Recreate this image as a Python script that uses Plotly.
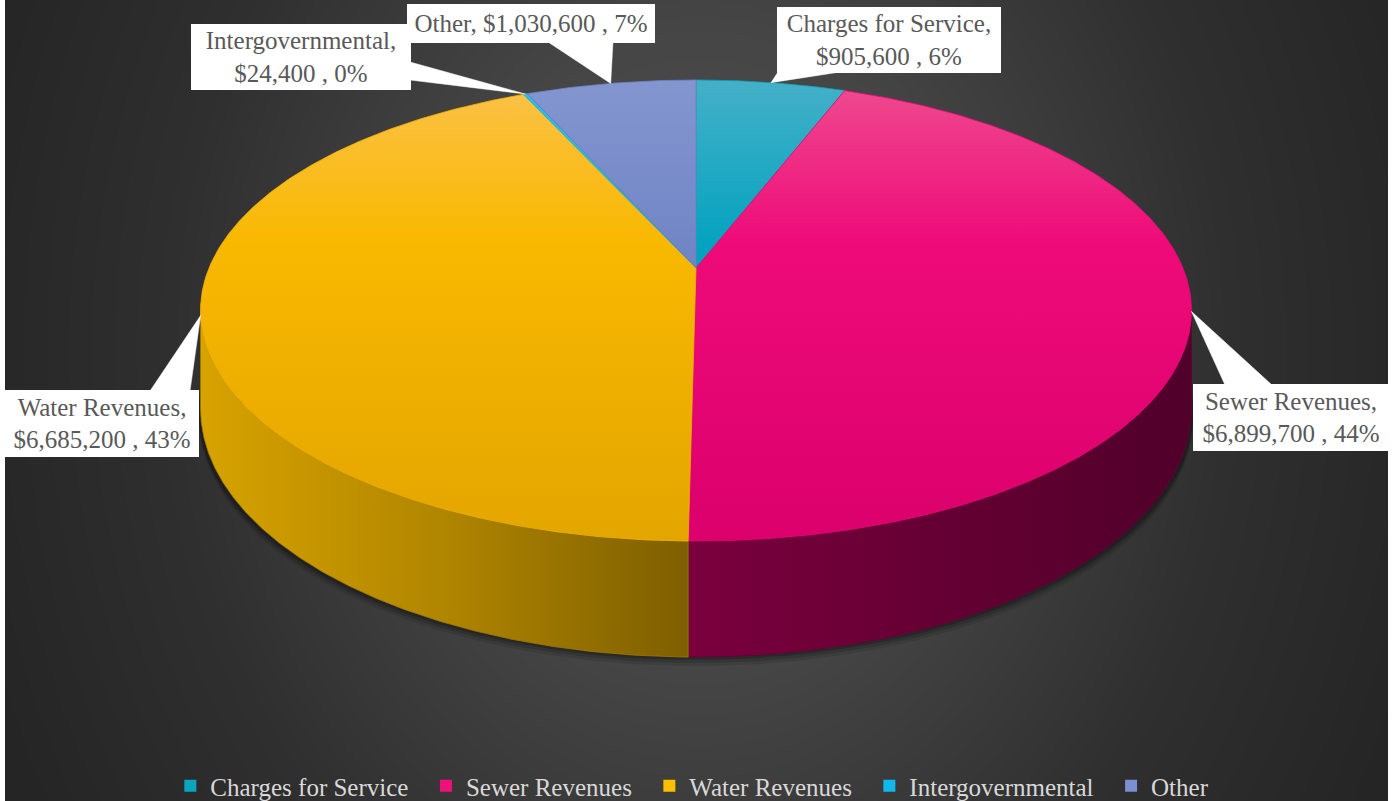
import numpy as np
import plotly.graph_objects as go

# ---- data -------------------------------------------------------------
categories = ["Charges for Service", "Sewer Revenues", "Water Revenues",
              "Intergovernmental", "Other"]
amounts = [905600, 6899700, 6685200, 24400, 1030600]

# ---- styles -----------------------------------------------------------
top_scales = [
    [[0, "#45B0C8"], [0.35, "#05A3C0"], [1, "#0092AE"]],
    [[0, "#EF4C8F"], [0.35, "#EE0B79"], [1, "#DB006B"]],
    [[0, "#FBC24A"], [0.35, "#F9B800"], [1, "#E3A500"]],
    [[0, "#2EBCEA"], [1, "#12A8DA"]],
    [[0, "#8496D0"], [0.35, "#7286C6"], [1, "#5A6CB2"]],
]
edge_colors = ["#0AA0BC", "#E8087A", "#F4B300", "#1AB5E6", "#6C80C2"]
side_scales = [
    [[0, "#007A90"], [1, "#005E70"]],
    [[0, "#7A003D"], [1, "#50002A"]],
    [[0, "#D8A300"], [0.5, "#B08500"], [1, "#7E5F00"]],
    [[0, "#0F86AA"], [1, "#0A6F90"]],
    [[0, "#4A5896"], [1, "#3A4678"]],
]
side_edges = ["#006C80", "#640034", "#A07A00", "#0C7A9C", "#424F88"]
legend_colors = ["#0AA5C0", "#F0107A", "#FAC000", "#12B8EA", "#7A8ED0"]

# label boxes: left, top, width, height (pixels)
label_boxes = {
    "Charges for Service": (777, 7, 224, 66),
    "Sewer Revenues": (1193, 384, 196, 67),
    "Water Revenues": (5, 390, 194, 67),
    "Intergovernmental": (191, 24, 220, 66),
    "Other": (407, 4, 248, 39),
}
# pointer bases on the label boxes (two points each)
pointer_bases = {
    "Charges for Service": ((778, 72), (840, 72)),
    "Sewer Revenues": ((1225, 385), (1272, 385)),
    "Water Revenues": ((150, 391), (190, 391)),
    "Intergovernmental": ((410, 62), (410, 80)),
    "Other": ((548, 42), (613, 42)),
}
single_line = {"Other"}

W, H = 1399, 801
X0, X1 = 5, 1388

# ---- projection of the cylinder -------------------------------------
CX, CY = 696.0, 268.0
RX, RY = 487.0, 222.7
PERSP = 0.1844
DEPTH = 94.6


def project(theta_deg, r=1.0, z=0.0):
    t = np.radians(np.asarray(theta_deg, dtype=float))
    X = r * np.sin(t)
    Y = r * np.cos(t)
    s = 1.0 / (1.0 + PERSP * Y)
    return CX + RX * X * s, CY - RY * Y * s + DEPTH * z * s


total = float(sum(amounts))
fracs = [a / total for a in amounts]
cum = np.concatenate([[0.0], np.cumsum(fracs)])
starts = cum[:-1] * 360.0
ends = cum[1:] * 360.0
mids = (starts + ends) / 2.0

# silhouette angles of the side wall
th_all = np.linspace(0, 360, 36001)
xs_all, _ = project(th_all)
theta_right = th_all[np.argmax(xs_all)]
theta_left = th_all[np.argmin(xs_all)]


def arc(a0, a1, z=0.0):
    n = max(3, int(abs(a1 - a0) * 3))
    th = np.linspace(a0, a1, n)
    return project(th, 1.0, z)


fig = go.Figure()

# ---- background ------------------------------------------------------
gx = np.linspace(X0, X1, 90)
gy = np.linspace(0, H, 52)
GX, GY = np.meshgrid(gx, gy)
dist = np.sqrt(((GX - 700) / 560.0) ** 2 + ((GY - 350) / 700.0) ** 2)
fig.add_trace(go.Heatmap(
    x=gx, y=gy, z=dist, zmin=0, zmax=1.35, zsmooth="best",
    colorscale=[[0, "#4E4E4E"], [0.33, "#464646"], [0.7, "#2F2F2F"], [1, "#252525"]],
    showscale=False, hoverinfo="skip",
))

# ---- shadow under the pie -------------------------------------------
bx, by = arc(0, 360, 1.0)
for off, op in [(9, 0.10), (6, 0.14), (3, 0.2)]:
    fig.add_trace(go.Scatter(
        x=CX + (bx - CX) * 1.004, y=by + off, fill="toself", mode="lines",
        line=dict(width=0), fillcolor=f"rgba(0,0,0,{op})",
        hoverinfo="skip", showlegend=False,
    ))

# ---- side wall -------------------------------------------------------
for i, cat in enumerate(categories):
    a0 = max(starts[i], theta_right)
    a1 = min(ends[i], theta_left)
    if a1 <= a0:
        continue
    tx, ty = arc(a0, a1, 0.0)
    bx_, by_ = arc(a0, a1, 1.0)
    px = np.concatenate([tx, bx_[::-1], tx[:1]])
    py = np.concatenate([ty, by_[::-1], ty[:1]])
    fig.add_trace(go.Scatter(
        x=px, y=py, fill="toself", mode="lines",
        line=dict(width=0.8, color=side_edges[i]),
        fillgradient=dict(type="horizontal", colorscale=side_scales[i],
                          start=float(px.min()), stop=float(px.max())),
        hoverinfo="skip", showlegend=False,
    ))

# ---- top face --------------------------------------------------------
for i, cat in enumerate(categories):
    ax, ay = arc(starts[i], ends[i], 0.0)
    px = np.concatenate([[CX], ax, [CX]])
    py = np.concatenate([[CY], ay, [CY]])
    fig.add_trace(go.Scatter(
        x=px, y=py, fill="toself", mode="lines",
        line=dict(width=0.8, color=edge_colors[i]),
        fillgradient=dict(type="vertical", colorscale=top_scales[i],
                          start=80, stop=545),
        name=cat, text=f"{cat}: ${amounts[i]:,}", hoverinfo="text",
        showlegend=False,
    ))

# ---- callout labels --------------------------------------------------
annotations = []
for i, cat in enumerate(categories):
    tip_x, tip_y = project(mids[i], 1.0, 0.0)
    (b0x, b0y), (b1x, b1y) = pointer_bases[cat]
    fig.add_trace(go.Scatter(
        x=[b0x, b1x, float(tip_x), b0x], y=[b0y, b1y, float(tip_y), b0y],
        fill="toself", mode="lines", line=dict(width=0.5, color="white"),
        fillcolor="white", hoverinfo="skip", showlegend=False,
    ))
    pct = f"{fracs[i] * 100:.0f}%"
    sep = " " if cat in single_line else "<br>"
    text = f"{cat},{sep}${amounts[i]:,} , {pct}"
    lx, ly, lw, lh = label_boxes[cat]
    annotations.append(dict(
        x=lx, y=ly, xref="x", yref="y", xanchor="left", yanchor="top",
        width=lw, height=lh, text=text, showarrow=False,
        align="center", valign="middle", bgcolor="white",
        borderpad=0, borderwidth=0,
        font=dict(family="Liberation Serif", size=25, color="#595959"),
    ))

# ---- legend entries --------------------------------------------------
pad = "\u00a0\u00a0"
for i, cat in enumerate(categories):
    label = cat if i == len(categories) - 1 else cat + pad
    fig.add_trace(go.Scatter(
        x=[None], y=[None], mode="markers", name=label,
        marker=dict(symbol="square", size=12, color=legend_colors[i]),
    ))

fig.update_layout(
    width=W, height=H,
    margin=dict(l=X0, r=W - X1, t=0, b=0, autoexpand=False),
    paper_bgcolor="white", plot_bgcolor="#3A3A3A",
    xaxis=dict(range=[X0, X1], visible=False, fixedrange=True),
    yaxis=dict(range=[H, 0], visible=False, fixedrange=True),
    annotations=annotations,
    showlegend=True,
    legend=dict(
        orientation="h", x=0.497, xanchor="center", y=1 - 786 / H,
        yanchor="middle", bgcolor="rgba(0,0,0,0)",
        font=dict(family="Liberation Serif", size=25, color="#D9D9D9"),
        itemsizing="constant", traceorder="normal",
    ),
)

fig.write_html("out.html")
